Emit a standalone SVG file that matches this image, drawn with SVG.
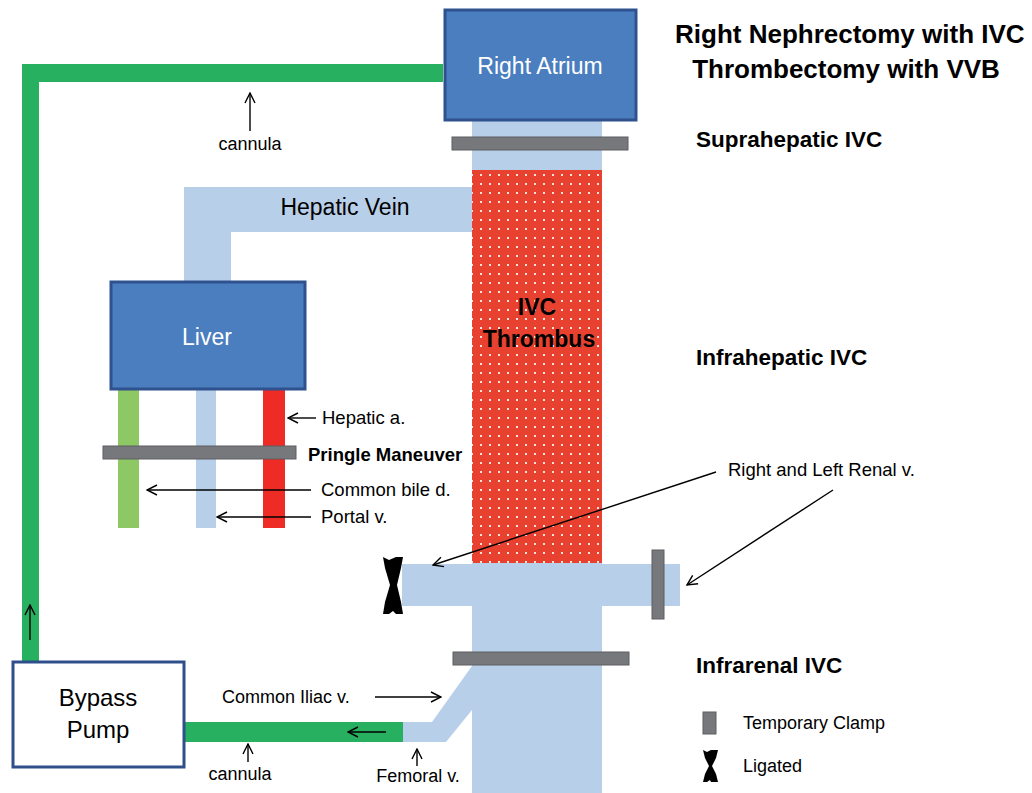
<svg xmlns="http://www.w3.org/2000/svg" width="1032" height="793" viewBox="0 0 1032 793">
<defs>
<pattern id="dots" x="0" y="0" width="9" height="9" patternUnits="userSpaceOnUse">
<rect width="9" height="9" fill="#e8412f"/>
<rect x="3" y="3" width="2" height="2" fill="#ffffff" opacity="0.85"/>
</pattern>
<marker id="ah" viewBox="0 0 12 12" refX="11" refY="6" markerWidth="12" markerHeight="12" markerUnits="userSpaceOnUse" orient="auto">
<polyline points="1,1 11,6 1,11" fill="none" stroke="#000" stroke-width="1.4"/>
</marker>
</defs>
<style>
.t{font-family:"Liberation Sans",Arial,sans-serif;fill:#000}
.b{font-weight:bold}
.w{fill:#ffffff}
.box{fill:#4a7ebf;stroke:#2f528f;stroke-width:3}
.vein{fill:#b8cfe9}
.clamp{fill:#77787b;stroke:#5e5f62;stroke-width:1}
.cann{fill:#27b060}
.ar{fill:none;stroke:#000;stroke-width:1.4;marker-end:url(#ah)}
</style>
<rect width="1032" height="793" fill="#ffffff"/>

<g id="ivc">
<rect class="vein" x="472" y="118" width="130" height="675"/>
<rect class="vein" x="402" y="564" width="278" height="42"/>
<polygon class="vein" points="472,666 432,722 403,722 403,742 446,742 472,710"/>
</g>
<g id="hepatic-vein">
<polygon class="vein" points="184,187 472,187 472,232 231,232 231,282 184,282"/>
<text class="t" x="345" y="215" font-size="23" text-anchor="middle">Hepatic Vein</text>
</g>
<g id="thrombus">
<rect x="472" y="170" width="130" height="393" fill="url(#dots)"/>
<text class="t b" x="537" y="315" font-size="23" text-anchor="middle">IVC</text>
<text class="t b" x="539" y="347" font-size="23" text-anchor="middle">Thrombus</text>
</g>
<g id="right-atrium">
<rect class="box" x="445" y="10" width="191" height="110"/>
<text class="t w" x="540" y="74" font-size="23" text-anchor="middle">Right Atrium</text>
</g>
<g id="portal-vessels">
<rect x="118" y="388" width="21" height="140" fill="#8dc864"/>
<rect x="196" y="388" width="20" height="140" class="vein"/>
<rect x="263" y="388" width="22" height="140" fill="#ee2b25"/>
</g>
<g id="liver">
<rect class="box" x="111" y="282" width="194" height="107"/>
<text class="t w" x="207" y="345" font-size="23" text-anchor="middle">Liver</text>
</g>
<g id="clamps">
<rect class="clamp" x="452" y="137" width="176" height="13"/>
<rect class="clamp" x="103" y="446" width="193" height="13"/>
<rect class="clamp" x="652" y="550" width="12" height="69"/>
<rect class="clamp" x="453" y="652" width="176" height="13"/>
</g>
<g id="ligature">
<polygon points="383,557 389,560 396,557 403,557 401,568 397,585 401,602 403,614 396,614 393,611 389,614 383,614 385,602 390,585 385,568" fill="#000"/>
</g>
<g id="bypass-circuit">
<rect class="cann" x="22" y="64" width="421" height="18"/>
<rect class="cann" x="22" y="64" width="17" height="598"/>
<rect class="cann" x="184" y="722" width="219" height="20"/>
</g>
<g id="bypass-pump">
<rect x="13" y="662" width="171" height="105" fill="#ffffff" stroke="#2f4f8a" stroke-width="3"/>
<text class="t" x="98" y="706" font-size="24" text-anchor="middle">Bypass</text>
<text class="t" x="98" y="738" font-size="24" text-anchor="middle">Pump</text>
</g>

<g id="connectors">
<line class="ar" x1="250" y1="131" x2="250" y2="93"/>
<line class="ar" x1="30" y1="640" x2="30" y2="605"/>
<line class="ar" x1="386" y1="732" x2="348" y2="732"/>
<line class="ar" x1="248" y1="762" x2="248" y2="744"/>
<line class="ar" x1="417" y1="766" x2="417" y2="749"/>
<line class="ar" x1="375" y1="697" x2="441" y2="697"/>
<line class="ar" x1="316" y1="418" x2="288" y2="418"/>
<line class="ar" x1="311" y1="490" x2="147" y2="490"/>
<line class="ar" x1="311" y1="517" x2="217" y2="517"/>
<line class="ar" x1="716" y1="472" x2="433" y2="565"/>
<line class="ar" x1="833" y1="490" x2="687" y2="585"/>
</g>

<g id="labels">
<text class="t b" x="675" y="43" font-size="26">Right Nephrectomy with IVC</text>
<text class="t b" x="846" y="78" font-size="26" text-anchor="middle">Thrombectomy with VVB</text>
<text class="t b" x="696" y="147" font-size="22.5">Suprahepatic IVC</text>
<text class="t b" x="696" y="365" font-size="22.5">Infrahepatic IVC</text>
<text class="t b" x="696" y="673" font-size="22.5">Infrarenal IVC</text>
<text class="t" x="250" y="150" font-size="18" text-anchor="middle">cannula</text>
<text class="t" x="240" y="780" font-size="18" text-anchor="middle">cannula</text>
<text class="t" x="322" y="424" font-size="18.5">Hepatic a.</text>
<text class="t b" x="308" y="461" font-size="18.5">Pringle Maneuver</text>
<text class="t" x="321" y="496" font-size="18.5">Common bile d.</text>
<text class="t" x="321" y="523" font-size="18.5">Portal v.</text>
<text class="t" x="728" y="476" font-size="18.5">Right and Left Renal v.</text>
<text class="t" x="222" y="703" font-size="18">Common Iliac v.</text>
<text class="t" x="418" y="782" font-size="18" text-anchor="middle">Femoral v.</text>
</g>

<g id="legend">
<rect class="clamp" x="703" y="712" width="13" height="22"/>
<text class="t" x="743" y="729" font-size="18">Temporary Clamp</text>
<polygon points="703,750 707,752 711,750 718,750 716,758 712,766 716,774 718,782 711,782 710,780 707,782 703,782 705,774 709,766 705,758" fill="#000"/>
<text class="t" x="743" y="772" font-size="18">Ligated</text>
</g>
</svg>
